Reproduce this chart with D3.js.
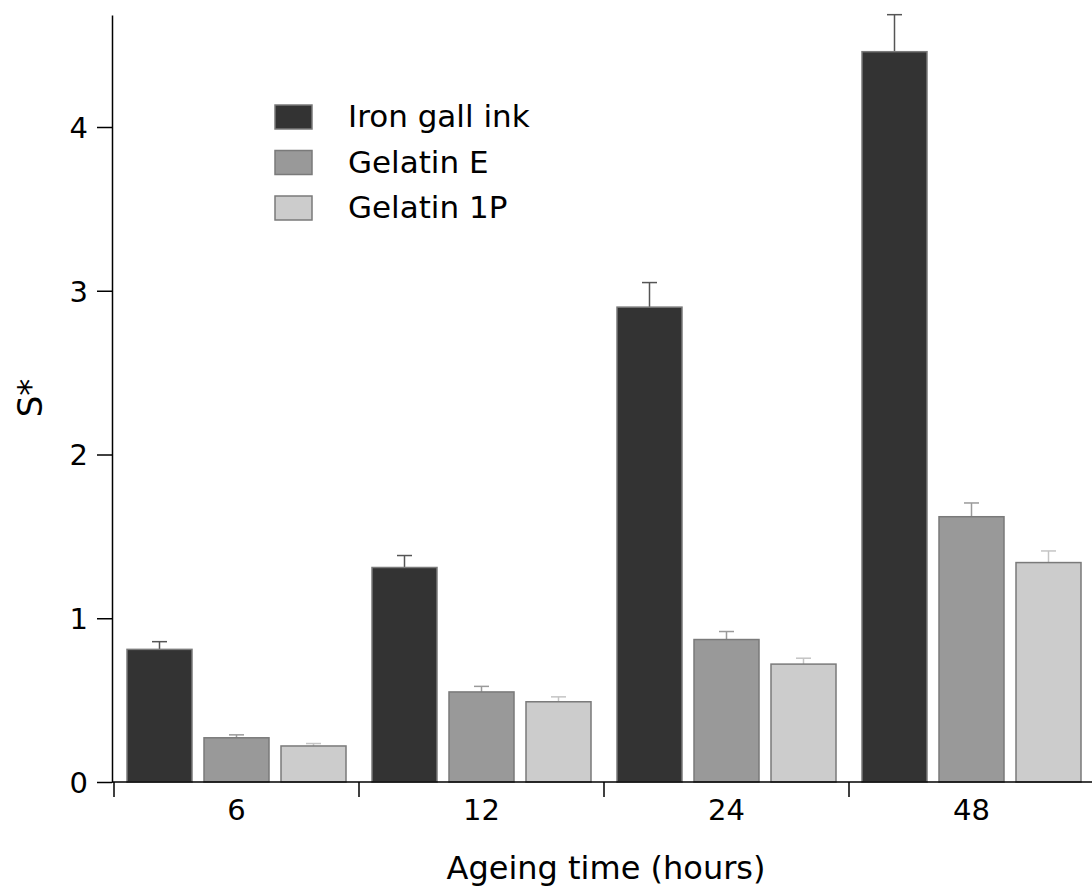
<!DOCTYPE html>
<html>
<head>
<meta charset="utf-8">
<script src="https://cdn.jsdelivr.net/npm/d3@7"></script>
<style>
  body { margin: 0; background: #fff; }
  text { font-family: 'DejaVu Sans', sans-serif; fill: #000; }
</style>
</head>
<body>
<div id="svgDiv"></div>
<script>
// data
const hours = ['6', '12', '24', '48']
const series = ['Iron gall ink', 'Gelatin E', 'Gelatin 1P']
const ironInk = [0.81, 1.31, 2.90, 4.46]
const gelatinE = [0.27, 0.55, 0.87, 1.62]
const gelatin1P = [0.22, 0.49, 0.72, 1.34]
const ironInkErr = [0.047, 0.073, 0.15, 0.226]
const gelatinEErr = [0.018, 0.034, 0.049, 0.084]
const gelatin1PErr = [0.015, 0.030, 0.036, 0.071]
const yTicks = [0, 1, 2, 3, 4]

const fills = ['#333333', '#999999', '#cccccc']
const errColors = ['#555555', '#9a9a9a', '#c4c4c4']

const values = [ironInk, gelatinE, gelatin1P]
const errors = [ironInkErr, gelatinEErr, gelatin1PErr]

var width = 1092, height = 890

var svg = d3.select('#svgDiv')
    .append('svg')
    .attr('width', width)
    .attr('height', height)

// scales
var y = d3.scaleLinear()
    .domain([0, 4.684])
    .range([782, 15])

var x0 = d3.scaleBand()
    .domain(hours)
    .range([114, 1094])

var x1 = d3.scaleBand()
    .domain(series)
    .range([13, x0.bandwidth() - 13])
    .paddingInner(12 / 77)

// bars + error bars
var rows = []
hours.forEach(function(h, i){
    series.forEach(function(s, j){
        rows.push({hour: h, series: s, j: j, v: values[j][i], e: errors[j][i]})
    })
})

var g = svg.append('g')

g.selectAll('.err')
    .data(rows)
    .join('g')
    .classed('err', true)
    .each(function(d){
        var cx = x0(d.hour) + x1(d.series) + x1.bandwidth() / 2
        var sel = d3.select(this)
        sel.append('line')
            .attr('x1', cx).attr('x2', cx)
            .attr('y1', y(d.v)).attr('y2', y(d.v + d.e))
        sel.append('line')
            .attr('x1', cx - 7.5).attr('x2', cx + 7.5)
            .attr('y1', y(d.v + d.e)).attr('y2', y(d.v + d.e))
        sel.selectAll('line')
            .style('stroke', errColors[d.j])
            .style('stroke-width', 1.5)
    })

g.selectAll('.bar')
    .data(rows)
    .join('rect')
    .classed('bar', true)
    .attr('x', d => x0(d.hour) + x1(d.series))
    .attr('y', d => y(d.v))
    .attr('width', x1.bandwidth())
    .attr('height', d => y(0) - y(d.v))
    .style('fill', d => fills[d.j])
    .style('stroke', '#7a7a7a')
    .style('stroke-width', 1.5)

// y axis
var yAxis = svg.append('g')
    .attr('transform', 'translate(112,0)')
    .call(d3.axisLeft(y)
        .tickValues(yTicks)
        .tickSize(15)
        .tickSizeOuter(0)
        .tickPadding(9)
        .tickFormat(d3.format('d')))
yAxis.selectAll('text').style('font-size', '29px').attr('dy', '0.36em')
yAxis.selectAll('line, path').style('stroke', '#000').style('stroke-width', 1.5)

// x axis: labels at group centres, ticks at group boundaries
var xAxis = svg.append('g')
    .attr('transform', 'translate(0,782)')
    .call(d3.axisBottom(x0).tickSize(0).tickPadding(17))
xAxis.select('.domain').remove()
xAxis.selectAll('text').style('font-size', '29px')

xAxis.append('line')
    .attr('x1', 112).attr('x2', width)
    .attr('y1', 0).attr('y2', 0)
    .style('stroke', '#000').style('stroke-width', 1.5)

xAxis.selectAll('.bound')
    .data(hours)
    .join('line')
    .classed('bound', true)
    .attr('x1', d => x0(d)).attr('x2', d => x0(d))
    .attr('y1', 0).attr('y2', 15)
    .style('stroke', '#000').style('stroke-width', 1.5)

// axis titles
svg.append('text')
    .attr('x', 606)
    .attr('y', 879)
    .attr('text-anchor', 'middle')
    .style('font-size', '32px')
    .text('Ageing time (hours)')

svg.append('text')
    .attr('transform', 'translate(42,398) rotate(-90)')
    .attr('text-anchor', 'middle')
    .style('font-size', '34px')
    .text('S*')

// legend
var legend = svg.append('g')
    .attr('transform', 'translate(275,105)')
var item = legend.selectAll('.item')
    .data(series)
    .join('g')
    .classed('item', true)
    .attr('transform', (d, i) => 'translate(0,' + (i * 45.5) + ')')
item.append('rect')
    .attr('width', 37)
    .attr('height', 24)
    .style('fill', (d, i) => fills[i])
    .style('stroke', '#7a7a7a')
    .style('stroke-width', 1.5)
item.append('text')
    .attr('x', 73)
    .attr('y', 22)
    .style('font-size', '31px')
    .text(d => d)
</script>
</body>
</html>
